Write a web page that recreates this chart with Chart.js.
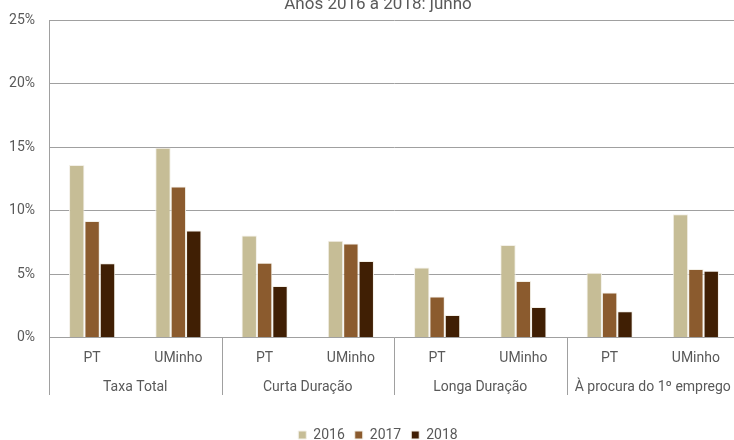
<!DOCTYPE html>
<html>
<head>
<meta charset="utf-8">
<script src="https://cdn.jsdelivr.net/npm/chart.js@4.4.1/dist/chart.umd.min.js"></script>
<style>
  html, body { margin: 0; padding: 0; overflow: hidden; background: #fff; }
  #wrap { position: absolute; left: 0; top: -12px; width: 756px; height: 464px; }
</style>
</head>
<body>
<div id="wrap"><canvas id="chart"></canvas></div>
<script>
// Data
const subLabels = ['PT', 'UMinho', 'PT', 'UMinho', 'PT', 'UMinho', 'PT', 'UMinho'];
const groupLabels = ['Taxa Total', 'Curta Duração', 'Longa Duração', 'À procura do 1º emprego'];
const years = ['2016', '2017', '2018'];
const values2016 = [13.6, 14.95, 8.04, 7.62, 5.52, 7.28, 5.10, 9.72];
const values2017 = [9.17, 11.9, 5.89, 7.41, 3.23, 4.44, 3.55, 5.39];
const values2018 = [5.84, 8.44, 4.05, 6.02, 1.76, 2.39, 2.07, 5.26];
const yTicks = [0, 5, 10, 15, 20, 25];

const colors = ['#C6BD96', '#8B5B2E', '#401F04'];
const textColor = '#595959';
const lineColor = '#A0A0A0';
const font = { family: 'Roboto', size: 14, weight: 'normal' };
const legendGap = 23;

Chart.defaults.font.family = 'Roboto';
Chart.defaults.color = textColor;

// vertical separators between the groups, below the zero line
const groupLines = {
  id: 'groupLines',
  afterDraw(chart) {
    const { ctx, chartArea, scales } = chart;
    const x = scales.x;
    const bottom = scales.x2.bottom - legendGap;
    const xs = [chartArea.left];
    for (let i = 2; i < subLabels.length; i += 2) {
      xs.push((x.getPixelForValue(i - 1) + x.getPixelForValue(i)) / 2);
    }
    xs.push(chartArea.right);
    ctx.save();
    ctx.strokeStyle = lineColor;
    ctx.lineWidth = 1;
    xs.forEach(px => {
      const p = Math.round(px) + 0.5;
      ctx.beginPath();
      ctx.moveTo(p, chartArea.bottom);
      ctx.lineTo(p, bottom);
      ctx.stroke();
    });
    ctx.restore();
  }
};

const series = [values2016, values2017, values2018];

new Chart(document.getElementById('chart'), {
  type: 'bar',
  data: {
    labels: subLabels,
    datasets: years.map((y, i) => ({
      label: y,
      data: series[i],
      backgroundColor: colors[i],
      borderColor: '#F3F0E8',
      borderWidth: 1,
      categoryPercentage: 0.535,
      barPercentage: 1.0
    }))
  },
  options: {
    responsive: true,
    maintainAspectRatio: false,
    animation: false,
    layout: { padding: 0 },
    scales: {
      x: {
        type: 'category',
        labels: subLabels,
        position: 'bottom',
        weight: 0,
        offset: true,
        grid: { display: false, drawTicks: false },
        border: { display: false },
        ticks: { padding: 13, color: textColor, font, autoSkip: false, maxRotation: 0 },
        afterFit: s => { s.height = 29; }
      },
      x2: {
        type: 'category',
        labels: groupLabels,
        position: 'bottom',
        weight: 1,
        offset: true,
        grid: { display: false, drawTicks: false },
        border: { display: false },
        ticks: { padding: 13, color: textColor, font, autoSkip: false, maxRotation: 0 },
        afterFit: s => { s.height = 28.6 + legendGap; }
      },
      y: {
        min: 0,
        max: 25,
        afterBuildTicks: s => { s.ticks = yTicks.map(v => ({ value: v })); },
        ticks: { padding: 14, color: textColor, font, callback: v => v + '%' },
        grid: { color: lineColor, drawTicks: false },
        border: { display: true, color: lineColor },
        afterFit: s => { s.width = 49; }
      },
      yR: {
        position: 'right',
        display: true,
        ticks: { display: false },
        grid: { display: false },
        border: { display: false },
        afterFit: s => { s.width = 17; }
      }
    },
    plugins: {
      title: {
        display: true,
        text: 'Anos 2016 a 2018: junho',
        color: textColor,
        font: { family: 'Roboto', size: 17, weight: 'normal' },
        padding: { top: 6.5, bottom: 5.5 }
      },
      legend: {
        position: 'bottom',
        labels: { boxWidth: 8, boxHeight: 8, padding: 10, color: textColor, font }
      },
      tooltip: { enabled: false }
    }
  },
  plugins: [groupLines]
});
</script>
</body>
</html>
